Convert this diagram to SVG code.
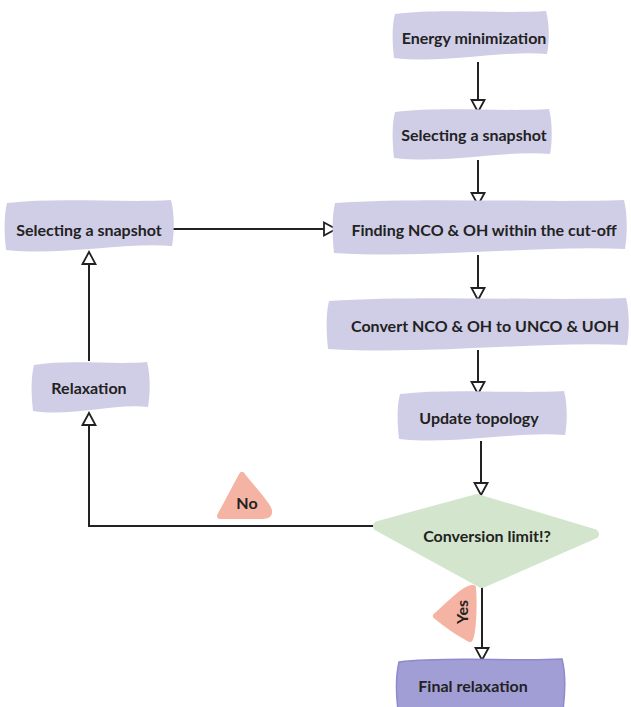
<svg xmlns="http://www.w3.org/2000/svg" width="631" height="707" viewBox="0 0 631 707">
<defs>
<marker id="arr" viewBox="0 0 16 16" refX="14" refY="8" markerWidth="16" markerHeight="16" markerUnits="userSpaceOnUse" orient="auto">
<path d="M2,1.5 L14,8 L2,14.5 Z" fill="#fff" stroke="#222" stroke-width="1.8" stroke-linejoin="miter"/>
</marker>
<style>
.box{fill:#D0CEE7;}
.fin{fill:#A19ED6;stroke:#8E8ACB;stroke-width:1.5;}
.dia{fill:#D3E6CD;stroke:#D3E6CD;stroke-width:10;stroke-linejoin:round;}
.tag{fill:#F5B3A3;stroke:#F5B3A3;stroke-width:6;stroke-linejoin:round;}
.lbl{font-family:Lato,"Liberation Sans",sans-serif;font-weight:bold;font-size:16px;fill:#222;text-anchor:middle;dominant-baseline:central;}
.con{fill:none;stroke:#222;stroke-width:2;}
</style>
</defs>
<rect width="631" height="707" fill="#fff"/>
<g id="connectors">
<path class="con" d="M478,62 L478,112" marker-end="url(#arr)"/>
<path class="con" d="M478,160 L478,205" marker-end="url(#arr)"/>
<path class="con" d="M173,229 L336,229" marker-end="url(#arr)"/>
<path class="con" d="M478,255 L478,300" marker-end="url(#arr)"/>
<path class="con" d="M478,350 L478,394" marker-end="url(#arr)"/>
<path class="con" d="M481,441 L481,495" marker-end="url(#arr)"/>
<path class="con" d="M374,526 L89,526 L89,413" marker-end="url(#arr)"/>
<path class="con" d="M89,361 L89,252" marker-end="url(#arr)"/>
<path class="con" d="M482,586 L482,660" marker-end="url(#arr)"/>
</g>
<g id="n1">
<path class="box" d="M395,14 C439.5,8 501.5,14 546,11 C550,25 549,45 547,54 C501.5,50 447,64 394,58 C392,40 392,25 395,14 Z"/>
<text class="lbl" x="474" y="37">Energy minimization</text>
</g>
<g id="n2">
<path class="box" d="M395,112 C440,106 504,112 549,109 C553,124 552,144 550,154 C504,150 448,164 394,158 C392,139 392,124 395,112 Z"/>
<text class="lbl" x="474" y="134">Selecting a snapshot</text>
</g>
<g id="n3">
<path class="box" d="M335,203 C421,197 538,203 624,200 C628,216 627,238 625,249 C538,245 436,259 334,253 C332,233 332,216 335,203 Z"/>
<text class="lbl" x="484" y="229">Finding NCO &amp; OH within the cut-off</text>
</g>
<g id="n4">
<path class="box" d="M7,203 C57,197 123,203 171,200 C175,215 174,236 172,246 C123,242 64,256 6,250 C4,231 4,215 7,203 Z"/>
<text class="lbl" x="89" y="229">Selecting a snapshot</text>
</g>
<g id="n5">
<path class="box" d="M329,301 C417,295 538,301 626,298 C630,313 629,335 627,345 C538,341 432,355 328,349 C326,329 326,313 329,301 Z"/>
<text class="lbl" x="485" y="325">Convert NCO &amp; OH to UNCO &amp; UOH</text>
</g>
<g id="n6">
<path class="box" d="M400,394 C450,388 516,394 564,391 C568,405 567,426 565,435 C516,431 457,445 399,439 C397,421 397,405 400,394 Z"/>
<text class="lbl" x="479" y="417">Update topology</text>
</g>
<g id="n7">
<path class="box" d="M34,365 C67,359 114,365 147,362 C151,377 150,397 148,407 C114,403 73,417 33,411 C31,392 31,377 34,365 Z"/>
<text class="lbl" x="89" y="387">Relaxation</text>
</g>
<g id="n8">
<path class="dia" d="M477,499 L594,534 L482,583 L378,526 Z"/>
<text class="lbl" x="487" y="535">Conversion limit!?</text>
</g>
<g id="n9">
<path class="fin" d="M399,662 C449,656 515,662 562,659 C566,674 565,694 563,710 L398,710 C396,694 396,675 399,662 Z"/>
<text class="lbl" x="473" y="685">Final relaxation</text>
</g>
<g id="no">
<path class="tag" d="M242,475 C252,488 262,498 268,508 C271,514 268,516 262,516 L220,516 Z"/>
<text class="lbl" x="247" y="502">No</text>
</g>
<g id="yes">
<path class="tag" d="M473,588 C466,588 458,596 436,616 C448,626 460,634 470,639 C474,630 474,600 473,588 Z"/>
<text class="lbl" x="461" y="612" transform="rotate(-90 461 612)">Yes</text>
</g>
</svg>
